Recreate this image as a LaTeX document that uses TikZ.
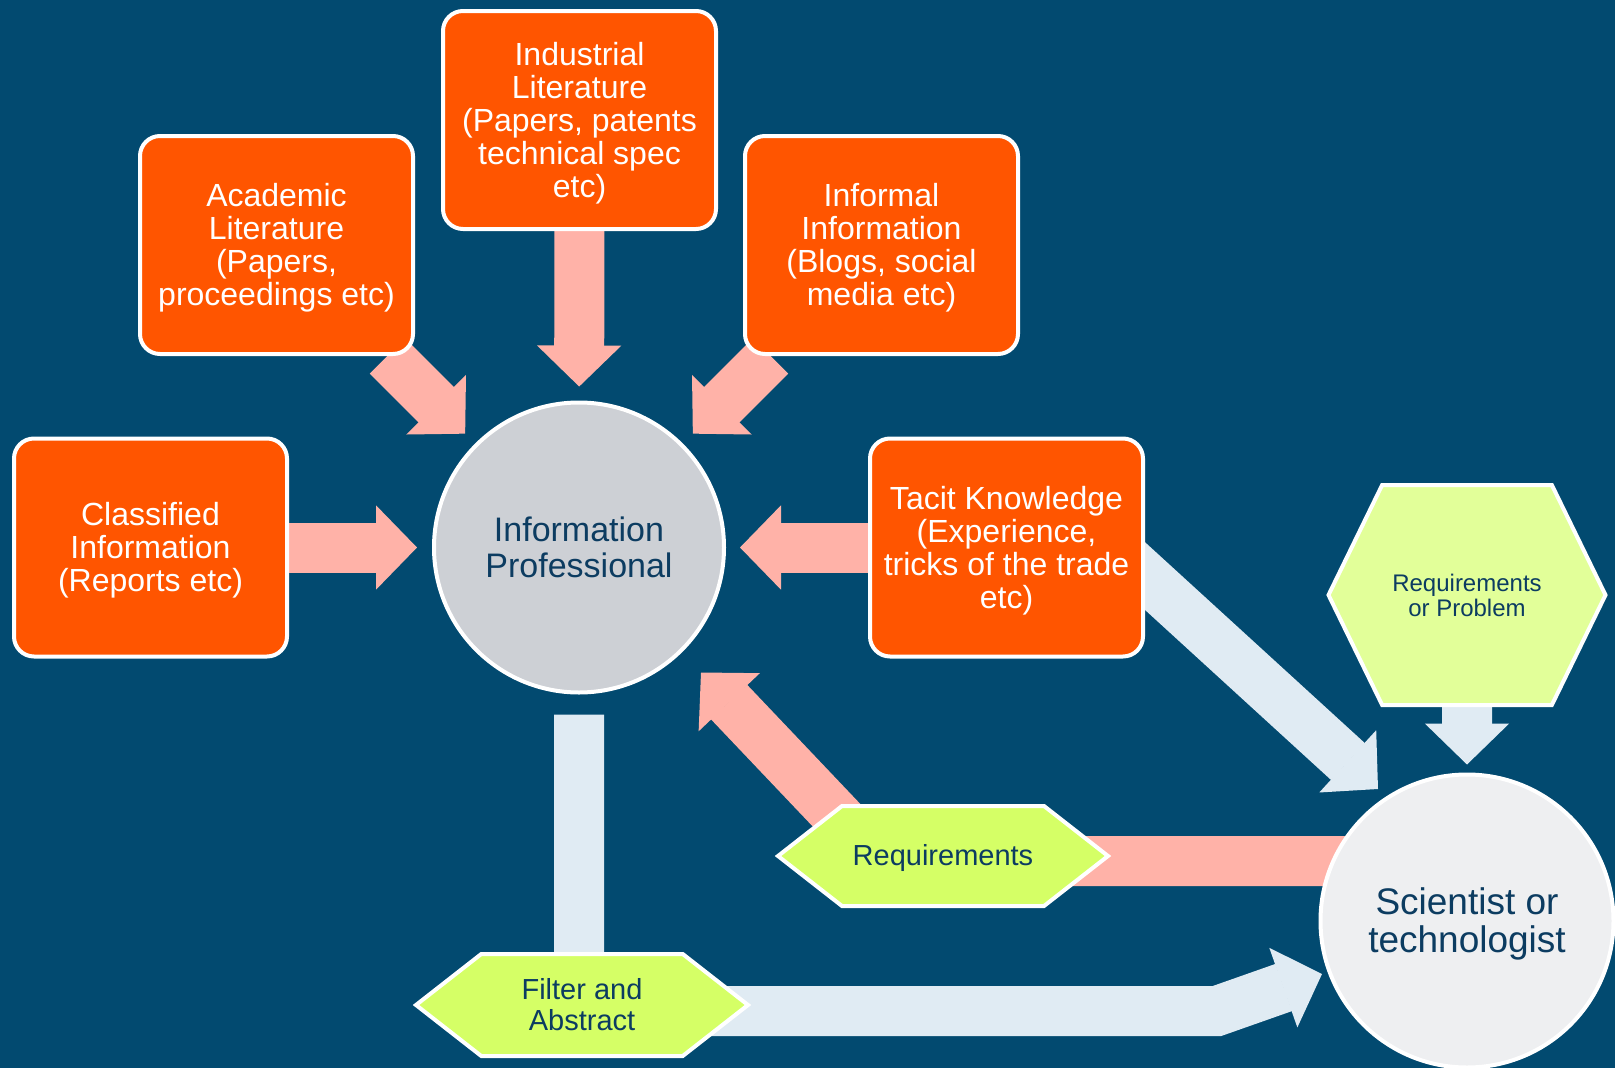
\documentclass[tikz,border=0pt]{standalone}
\usepackage{fontspec}
\setmainfont{Liberation Sans}
\usetikzlibrary{arrows.meta,shapes.symbols,calc}

\definecolor{bgblue}{RGB}{2,74,112}
\definecolor{srcorange}{RGB}{255,85,0}
\definecolor{pinkflow}{RGB}{255,178,168}
\definecolor{blueflow}{RGB}{224,235,243}
\definecolor{lime}{RGB}{213,255,102}
\definecolor{palelime}{RGB}{226,255,153}
\definecolor{navy}{RGB}{12,60,97}
\definecolor{ipgrey}{RGB}{205,208,213}
\definecolor{scigrey}{RGB}{238,239,241}

\pgfdeclarelayer{bg}
\pgfsetlayers{bg,main}

\begin{document}
\begin{tikzpicture}[x=1pt, y=-1pt,
	src/.style={draw=white, line width=4pt, fill=srcorange, rounded corners=20pt,
		minimum width=273pt, minimum height=218pt, inner sep=0pt, text depth=1pt,
		text=white, align=center, font=\fontsize{32}{33}\selectfont},
	hub/.style={circle, draw=white, line width=4pt, text=navy, align=center, inner sep=0pt},
	hexa/.style={signal, signal to=east and west, draw=white, line width=4pt,
		fill=lime, text=navy, align=center, inner sep=0pt},
	flow/.style={line width=50pt, line join=miter,
		-{Triangle[length=41pt, width=84pt, line width=2pt]}}]
	\useasboundingbox (0,0) rectangle (1615,1068);

	% sources
	\node[src] (acad)  at (276.5,245)   {Academic\\Literature\\(Papers,\\proceedings etc)};
	\node[src] (indus) at (579.5,120)   {Industrial\\Literature\\(Papers, patents\\technical spec\\etc)};
	\node[src] (infor) at (881.5,245)   {Informal\\Information\\(Blogs, social\\media etc)};
	\node[src] (class) at (150.5,547.5) {Classified\\Information\\(Reports etc)};
	\node[src] (tacit) at (1006.5,547.5) {Tacit Knowledge\\(Experience,\\tricks of the trade\\etc)};

	% people
	\node[hub, fill=ipgrey, minimum size=290pt, font=\fontsize{34}{36}\selectfont]
		(ip) at (579,547.5) {Information\\Professional};
	\node[hub, fill=scigrey, minimum size=293pt, text depth=2pt, font=\fontsize{37}{38}\selectfont]
		(sci) at (1467,921) {Scientist or\\technologist};

	% steps
	\node[hexa, fill=palelime, signal pointer angle=128, minimum width=277pt, minimum height=220pt,
		font=\fontsize{24}{25}\selectfont] (rop) at (1467,595) {Requirements\\or Problem};
	\node[hexa, signal pointer angle=76, minimum width=330pt, minimum height=100pt, text depth=2pt,
		font=\fontsize{29}{31}\selectfont] (req) at (943,856) {Requirements};
	\node[hexa, signal pointer angle=76, minimum width=332pt, minimum height=102pt,
		font=\fontsize{29}{31}\selectfont] (filt) at (582,1005) {Filter and\\Abstract};

	\begin{pgfonlayer}{bg}
		\fill[bgblue] (0,0) rectangle (1615,1068);
		% into the information professional
		\draw[flow, pinkflow, shorten >=15pt] (class) -- (ip);
		\draw[flow, pinkflow, shorten >=14pt] (acad) -- (ip);
		\draw[flow, pinkflow, shorten >=14pt] (indus) -- (ip);
		\draw[flow, pinkflow, shorten >=14pt] (infor) -- (ip);
		\draw[flow, pinkflow, shorten >=14pt] (tacit) -- (ip);
		\draw[flow, pinkflow] ($(sci.center)+(0,-60)$) -- ($(req.center)+(-63,5)$)
			-- ($(ip.center)+(122,125)$);
		% out to the scientist
		\draw[flow, blueflow, shorten >=8pt] (rop) -- (sci);
		\draw[flow, blueflow] ($(tacit.east)+(-40,-8)$) -- ($(sci.center)+(-89,-132)$);
		\draw[flow, blueflow] ($(ip.south)+(0,20)$) |- ($(sci.center)+(-250,90)$)
			-- ($(sci.center)+(-145,53)$);
	\end{pgfonlayer}
\end{tikzpicture}
\end{document}
